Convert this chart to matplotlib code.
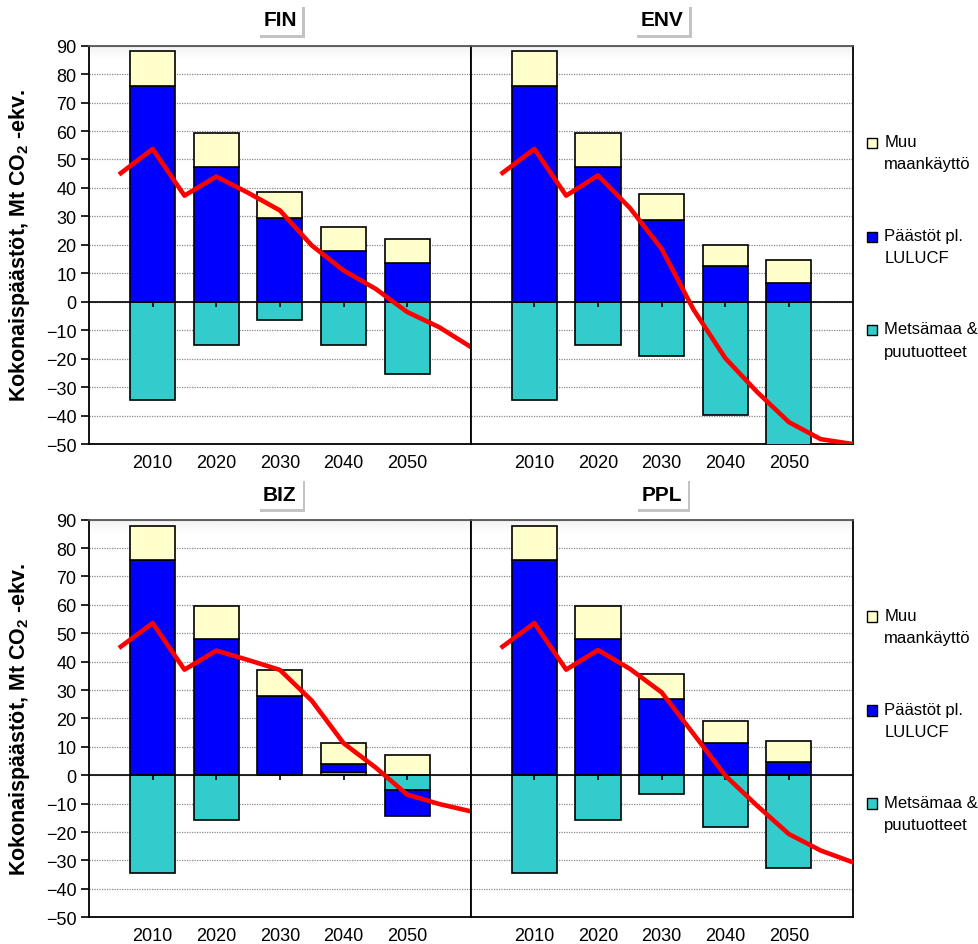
import numpy as np
import matplotlib
matplotlib.use("Agg")
import matplotlib.pyplot as plt
from matplotlib.patches import Rectangle
import matplotlib.patheffects as pe

plt.rcParams['font.family'] = ['Liberation Sans', 'DejaVu Sans']
plt.rcParams['mathtext.default'] = 'regular'

# bar years and the 5-year steps of the total line
years = [2010, 2020, 2030, 2040, 2050]
line_years = [2005, 2010, 2015, 2020, 2025, 2030, 2035, 2040, 2045, 2050, 2055, 2060]

# FIN
fin_metsa = [-34.4, -15.3, -6.3, -15.1, -25.5]
fin_paasto = [75.8, 47.5, 29.5, 17.7, 13.6]
fin_muu = [12.2, 11.8, 9.0, 8.5, 8.5]
fin_total = [45.2, 53.7, 37.3, 44.0, 38.3, 32.1, 19.8, 11.0, 4.6, -3.6, -8.9, -15.9]

# ENV
env_metsa = [-34.4, -15.3, -19.1, -39.9, -55.0]
env_paasto = [75.8, 47.5, 28.9, 12.5, 6.7]
env_muu = [12.2, 11.8, 8.8, 7.6, 7.8]
env_total = [45.3, 53.7, 37.3, 44.4, 33.0, 18.6, -2.7, -19.8, -31.7, -42.3, -48.3, -50.0]

# BIZ
biz_metsa = [-34.4, -15.6, 0.0, 1.3, -5.3]
biz_paasto = [75.8, 48.0, 28.0, 2.6, -9.1]
biz_muu = [12.1, 11.6, 9.1, 7.5, 7.3]
biz_total = [45.3, 53.6, 37.2, 43.9, 40.6, 37.1, 26.3, 11.3, 2.8, -6.8, -10.1, -12.7]

# PPL
ppl_metsa = [-34.4, -15.6, -6.6, -18.1, -32.6]
ppl_paasto = [75.8, 48.0, 26.9, 11.3, 4.5]
ppl_muu = [12.1, 11.6, 8.8, 7.9, 7.5]
ppl_total = [45.3, 53.6, 37.2, 44.1, 37.5, 29.2, 14.6, -0.1, -10.7, -20.7, -26.5, -30.6]

labels = ['Muu\nmaankäyttö', 'Päästöt pl.\nLULUCF', 'Metsämaa &\npuutuotteet']
c_muu = '#FFFFCC'
c_paasto = '#0000FF'
c_metsa = '#33CCCC'

ylabel = 'Kokonaispäästöt, Mt CO$_2$ -ekv.'


def draw_panel(ax, name, metsa, paasto, muu, total, left_col):
    x = (np.array(years) - 2010) / 10
    pos_bottom = np.zeros(len(x))
    neg_bottom = np.zeros(len(x))
    # excel style stacking: positives up, negatives down, in series order
    for vals, color in [(metsa, c_metsa), (paasto, c_paasto), (muu, c_muu)]:
        vals = np.array(vals)
        bottom = np.where(vals >= 0, pos_bottom, neg_bottom)
        ax.bar(x, vals, width=0.71, bottom=bottom, color=color,
               edgecolor='black', linewidth=1.2, zorder=3)
        pos_bottom += np.clip(vals, 0, None)
        neg_bottom += np.clip(vals, None, 0)

    lx = (np.array(line_years) - 2010) / 10
    ax.plot(lx, total, color='#FF0000', linewidth=3.3, zorder=6)

    ax.axhline(0, color='black', linewidth=1.2, zorder=4)
    ax.vlines(x, -1.8, 0, color='black', linewidth=1.2, zorder=5)

    # faint grey shading at the top of the plot area
    grad = np.linspace(0.95, 1.0, 20).reshape(-1, 1)
    ax.imshow(grad, extent=(0, 1, 0.965, 1), transform=ax.transAxes, aspect='auto',
              cmap='gray', vmin=0, vmax=1, zorder=0, interpolation='bilinear')

    ax.set_xlim(-1, 5)
    ax.set_ylim(-50, 90)
    ax.set_yticks(range(-50, 91, 10))
    ax.set_axisbelow(True)
    ax.yaxis.grid(True, linestyle=(0, (1, 1)), color='#888888', linewidth=0.9)

    ax.set_xticks(x)
    ax.set_xticklabels([str(y) for y in years])
    ax.tick_params(axis='x', length=0, pad=7, labelsize=13)
    if left_col:
        ax.tick_params(axis='y', length=6, width=1.2, labelsize=13, pad=3)
        ax.set_ylabel(ylabel, fontsize=15.5, fontweight='bold')
        ax.yaxis.set_label_coords(-0.148, 0.5)
    else:
        ax.tick_params(axis='y', left=False, labelleft=False)

    for s in ax.spines.values():
        s.set_color('black')
        s.set_linewidth(1.3)
    ax.spines['top'].set_color('#555555')

    t = ax.text(0.5, 1.0645, name, transform=ax.transAxes, ha='center', va='center',
                fontsize=15, fontweight='bold',
                bbox=dict(boxstyle='square,pad=0.28', fc='white', ec='none'))
    t.get_bbox_patch().set_path_effects([
        pe.withSimplePatchShadow(offset=(2, -2), shadow_rgbFace='#888888', alpha=0.5),
        pe.Normal()])

    if not left_col:
        for lab, col, yy in zip(labels, [c_muu, c_paasto, c_metsa], [0.756, 0.52, 0.286]):
            ax.add_patch(Rectangle((1.037, yy - 0.0133), 0.0277, 0.0266, transform=ax.transAxes,
                                   clip_on=False, fc=col, ec='black', lw=1.0))
            ax.text(1.083, yy + 0.022, lab, transform=ax.transAxes, ha='left', va='top',
                    fontsize=12, linespacing=1.6)


fig = plt.figure(figsize=(9.79, 9.45), dpi=100)
ax_fin = fig.add_axes([0.0909, 0.5291, 0.390, 0.4215])
ax_env = fig.add_axes([0.4808, 0.5291, 0.390, 0.4215])
ax_biz = fig.add_axes([0.0909, 0.0283, 0.390, 0.4207])
ax_ppl = fig.add_axes([0.4808, 0.0283, 0.390, 0.4207])

draw_panel(ax_fin, 'FIN', fin_metsa, fin_paasto, fin_muu, fin_total, True)
draw_panel(ax_env, 'ENV', env_metsa, env_paasto, env_muu, env_total, False)
draw_panel(ax_biz, 'BIZ', biz_metsa, biz_paasto, biz_muu, biz_total, True)
draw_panel(ax_ppl, 'PPL', ppl_metsa, ppl_paasto, ppl_muu, ppl_total, False)

fig.savefig('out.png', dpi=100)
